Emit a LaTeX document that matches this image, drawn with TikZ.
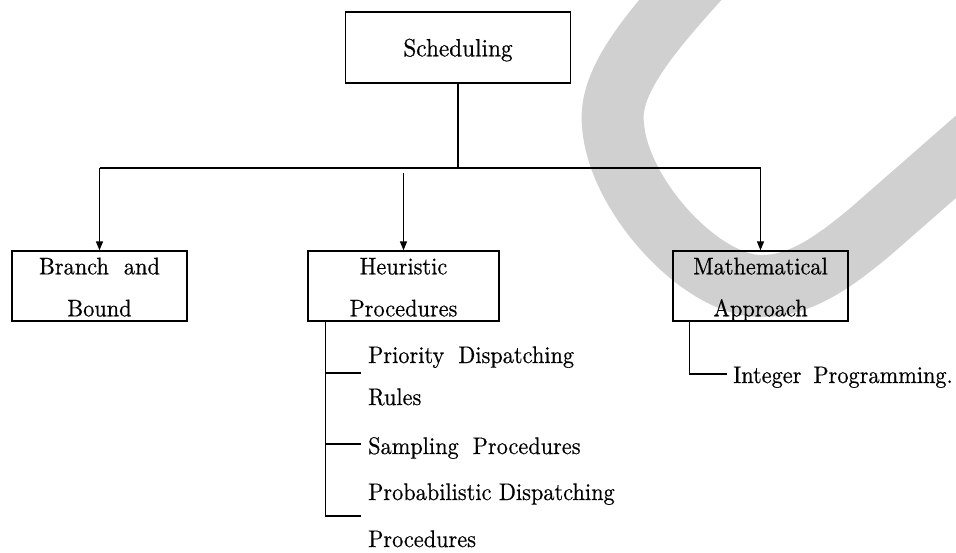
\documentclass[tikz,border=0pt]{standalone}
\usepackage{fontspec}
\setmainfont{lmroman10-regular.otf}[FakeBold=0.5,FakeStretch=0.93]
\usetikzlibrary{arrows.meta,calc}
\definecolor{bandgray}{RGB}{208,208,208}
\begin{document}
\begin{tikzpicture}[x=1pt,y=-1pt,
  box/.style={draw,line width=1.3pt,inner sep=0pt,minimum height=70pt},
  lbl/.style={font=\fontsize{24}{43}\selectfont,inner sep=0pt,anchor=base},
  item/.style={lbl,anchor=base west},
  link/.style={line width=1.3pt},
  arr/.style={link,-{Triangle[length=9pt,width=7pt]}},
]
\useasboundingbox (0,0) rectangle (956,552);
\clip (0,0) rectangle (956,552);

% broad grey swoosh behind the chart
\draw[bandgray,line width=62pt,line cap=round]
  (735,-60) .. controls (650,30) and (608,80) .. (613,125)
            .. controls (618,195) and (700,285) .. (760,286)
            .. controls (800,287) and (835,261) .. (870,232)
            -- (1030,92);

% boxes
\node[box,minimum width=225pt,minimum height=71pt] (sched) at (458,47.5) {};
\node[box,minimum width=175pt] (bb) at (99.5,286) {};
\node[box,minimum width=191pt] (hp) at (403.5,286) {};
\node[box,minimum width=175pt] (ma) at (760.5,286) {};

% box captions
\node[lbl,font=\fontsize{25}{43}\selectfont] (schedT) at ($(sched.north)+(0,45)$) {Scheduling};
\node[lbl] (bbA) at ($(bb.north)+(0,24)$) {Branch\hspace{15pt}and};
\node[lbl] (bbB) at ($(bb.north)+(0,66)$) {Bound};
\node[lbl] (hpA) at ($(hp.north)+(0,24)$) {Heuristic};
\node[lbl] (hpB) at ($(hp.north)+(0,66)$) {Procedures};
\node[lbl] (maA) at ($(ma.north)+(0,24)$) {Mathematical};
\node[lbl] (maB) at ($(ma.north)+(0,66)$) {Approach};

% trunk, bus and arrows
\coordinate (busy) at (0,168);
\coordinate (midtop) at (0,173);
\draw[link] (sched.south) -- (sched.south |- busy);
\draw[link] (bb.north |- busy) -- (ma.north |- busy);
\draw[arr] (bb.north |- busy) -- (bb.north);
\draw[arr] (hp.north |- midtop) -- (hp.north);
\draw[arr] (ma.north |- busy) -- (ma.north);

% heuristic procedures list
\coordinate (hTop) at ($(hp.south west)+(18,0)$);
\coordinate (t1) at (361,373);
\coordinate (t2) at (361,444);
\coordinate (t3) at (361,516);
\draw[link] (hTop) -- (hTop |- t3) -- (t3);
\draw[link] (hTop |- t1) -- (t1);
\draw[link] (hTop |- t2) -- (t2);
\node[item] (r1a) at (368,363) {Priority\hspace{14pt}Dispatching};
\node[item] (r1b) at (368,405) {Rules};
\node[item] (r2)  at (368,454) {Sampling\hspace{14pt}Procedures};
\node[item] (r3a) at (368,500) {Probabilistic Dispatching};
\node[item] (r3b) at (368,547) {Procedures};

% mathematical approach list
\coordinate (mTop) at ($(ma.south west)+(17,0)$);
\coordinate (t4) at (727,374);
\draw[link] (mTop) -- (mTop |- t4) -- (t4);
\node[item] (ip) at (733,383) {Integer\hspace{12pt}Programming.};
\end{tikzpicture}
\end{document}
